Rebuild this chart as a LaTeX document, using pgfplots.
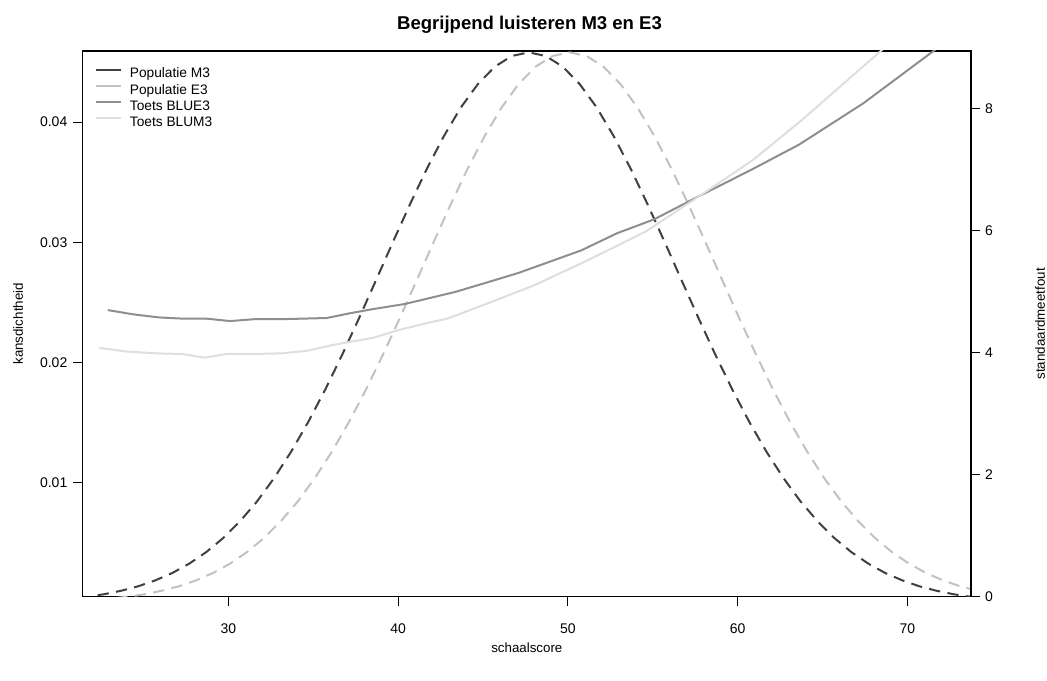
\documentclass[border=0pt]{standalone}
\usepackage{fontspec}
\setmainfont{Liberation Sans}
\usepackage{pgfplots}
\pgfplotsset{compat=1.18}
\definecolor{cM}{HTML}{404040}
\definecolor{cE}{HTML}{C2C2C2}
\definecolor{cBE}{HTML}{8E8E8E}
\definecolor{cBM}{HTML}{DEDEDE}
\begin{document}
\begin{tikzpicture}
\useasboundingbox (-62.0pt,-62.5pt) rectangle (723.2pt,447.5pt);
\begin{axis}[
  scale only axis, width=666.2pt, height=409.3pt,
  xmin=21.42, xmax=73.75, ymin=0.00053, ymax=0.04592,
  scaled y ticks=false, scaled x ticks=false,
  xtick={30,40,50,60,70}, xticklabels={30,40,50,60,70},
  ytick={0.01,0.02,0.03,0.04}, yticklabels={0.01,0.02,0.03,0.04},
  xtick pos=lower, ytick pos=left, tick align=outside,
  major tick length=7pt,
  axis line style={line width=0.9pt, black},
  every tick/.style={black, line width=0.75pt},
  tick label style={font=\fontsize{10.5}{12}\selectfont},
  xticklabel style={yshift=-9.5pt},
  yticklabel style={xshift=-1pt},
  xlabel={schaalscore}, ylabel={kansdichtheid},
  label style={font=\fontsize{10}{12}\selectfont},
  xlabel style={at={(axis description cs:0.5,-0.1014)}, anchor=base},
  ylabel style={at={(axis description cs:-0.0728,0.5)}, anchor=center},
  title={Begrijpend luisteren M3 en E3},
  title style={font=\bfseries\fontsize{13.9}{16}\selectfont, at={(axis description cs:0.503,1.0238)}, anchor=base},
]
\addplot[cM, line width=1.5pt, dash pattern=on 8.5pt off 5.5pt] coordinates {
(22.3,0.00065) (22.7,0.00074) (23.7,0.00103) (24.7,0.00140) (25.7,0.00189) (26.7,0.00250)
(27.7,0.00328) (28.7,0.00424) (29.7,0.00541) (30.7,0.00682) (31.7,0.00847) (32.7,0.01040)
(33.7,0.01259) (34.7,0.01504) (35.7,0.01773) (36.7,0.02063) (37.7,0.02369) (38.7,0.02685)
(39.7,0.03004) (40.7,0.03316) (41.7,0.03613) (42.7,0.03884) (43.7,0.04122) (44.7,0.04316)
(45.7,0.04461) (46.7,0.04550) (47.7,0.04580) (48.7,0.04550) (49.7,0.04461) (50.7,0.04316)
(51.7,0.04122) (52.7,0.03884) (53.7,0.03613) (54.7,0.03316) (55.7,0.03004) (56.7,0.02685)
(57.7,0.02369) (58.7,0.02063) (59.7,0.01773) (60.7,0.01504) (61.7,0.01259) (62.7,0.01040)
(63.7,0.00847) (64.7,0.00682) (65.7,0.00541) (66.7,0.00424) (67.7,0.00328) (68.7,0.00250)
(69.7,0.00189) (70.7,0.00140) (71.7,0.00103) (72.7,0.00074) (73.7,0.00053) (74.7,0.00038)
};
\addplot[cE, line width=1.5pt, dash pattern=on 8.5pt off 5.5pt] coordinates {
(22.3,0.00028) (23.1,0.00038) (24.1,0.00053) (25.1,0.00074) (26.1,0.00103) (27.1,0.00140)
(28.1,0.00189) (29.1,0.00250) (30.1,0.00328) (31.1,0.00424) (32.1,0.00541) (33.1,0.00682)
(34.1,0.00847) (35.1,0.01040) (36.1,0.01259) (37.1,0.01504) (38.1,0.01773) (39.1,0.02063)
(40.1,0.02369) (41.1,0.02685) (42.1,0.03004) (43.1,0.03316) (44.1,0.03613) (45.1,0.03884)
(46.1,0.04122) (47.1,0.04316) (48.1,0.04461) (49.1,0.04550) (50.1,0.04580) (51.1,0.04550)
(52.1,0.04461) (53.1,0.04316) (54.1,0.04122) (55.1,0.03884) (56.1,0.03613) (57.1,0.03316)
(58.1,0.03004) (59.1,0.02685) (60.1,0.02369) (61.1,0.02063) (62.1,0.01773) (63.1,0.01504)
(64.1,0.01259) (65.1,0.01040) (66.1,0.00847) (67.1,0.00682) (68.1,0.00541) (69.1,0.00424)
(70.1,0.00328) (71.1,0.00250) (72.1,0.00189) (73.1,0.00140) (74.1,0.00103)
};
\end{axis}
\begin{axis}[
  scale only axis, width=666.2pt, height=409.3pt,
  xmin=21.42, xmax=73.75, ymin=0, ymax=8.95,
  axis x line=none, axis y line*=right,
  ytick={0,2,4,6,8}, yticklabels={0,2,4,6,8},
  ytick pos=right, tick align=outside, major tick length=7pt,
  axis line style={line width=0.9pt, black},
  every tick/.style={black, line width=0.75pt},
  tick label style={font=\fontsize{10.5}{12}\selectfont},
  ylabel={standaardmeetfout},
  label style={font=\fontsize{10}{12}\selectfont},
  ylabel style={at={(axis description cs:1.0777,0.5)}, anchor=center, rotate=0},
  legend style={at={(axis description cs:0,1)}, anchor=north west, xshift=9.2pt, yshift=-10.5pt,
    draw=none, fill=none, inner sep=0pt, row sep=-0.7pt, column sep=3.75pt,
    font=\fontsize{10.3}{12}\selectfont, cells={anchor=west}},
  legend image code/.code={\draw[#1] (0pt,3pt) -- (18.75pt,3pt);},
]
\addlegendimage{cM, line width=1.5pt}\addlegendentry{Populatie M3}
\addlegendimage{cE, line width=1.5pt}\addlegendentry{Populatie E3}
\addlegendimage{cBE, line width=1.5pt}\addlegendentry{Toets BLUE3}
\addlegendimage{cBM, line width=1.5pt}\addlegendentry{Toets BLUM3}
\addplot[cBE, line width=1.5pt, forget plot] coordinates {
(22.9,4.70) (24.4,4.63) (25.9,4.58) (27.3,4.56) (28.7,4.56) (30.1,4.52) (31.5,4.55)
(33.0,4.55) (34.4,4.56) (35.8,4.57) (37.2,4.65) (38.6,4.72) (40.4,4.80) (41.9,4.90)
(43.4,5.00) (45.2,5.15) (47.1,5.31) (50.8,5.68) (52.9,5.96) (55.1,6.19) (57.6,6.55)
(60.8,7.00) (63.6,7.41) (67.4,8.09) (71.5,8.94) (74.0,9.45)
};
\addplot[cBM, line width=1.5pt, forget plot] coordinates {
(22.4,4.08) (24.0,4.02) (25.8,3.99) (27.3,3.98) (28.6,3.92) (29.9,3.98) (31.5,3.98)
(33.1,3.99) (34.6,4.03) (36.2,4.13) (38.6,4.25) (40.0,4.37) (41.9,4.50) (42.9,4.56)
(45.0,4.78) (48.05,5.11) (51.2,5.52) (54.6,5.99) (57.7,6.56) (60.9,7.16) (63.8,7.82)
(68.4,8.94) (70.0,9.35)
};
\end{axis}
\end{tikzpicture}
\end{document}
